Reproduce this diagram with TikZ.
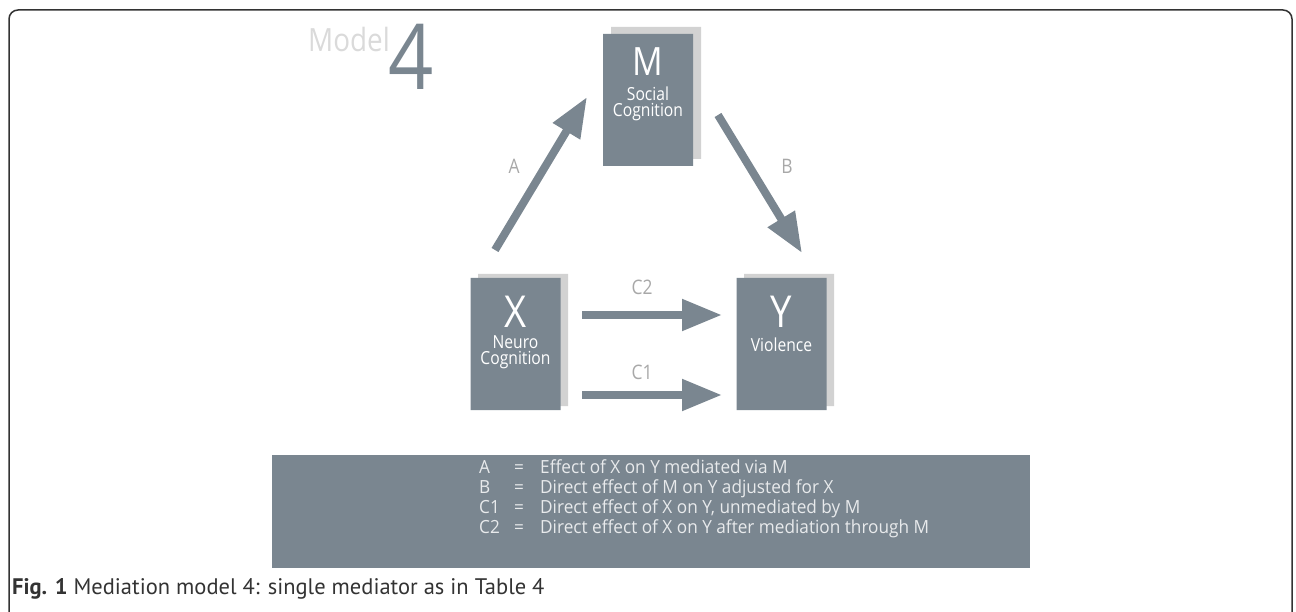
\documentclass[tikz,border=0pt]{standalone}
\usepackage{fontspec}
\usetikzlibrary{arrows.meta,shapes.misc}
\newfontfamily\dfont{Open Sans}[FakeStretch=0.87]
\newfontfamily\lfont{Open Sans}[FakeStretch=0.95]
\newfontfamily\capfont{PT Sans}
\definecolor{boxc}{HTML}{7A8690}
\definecolor{shadc}{HTML}{D2D2D2}
\definecolor{labc}{HTML}{A8A8A8}
\definecolor{modc}{HTML}{DADADA}
\definecolor{legc}{HTML}{E8EAEC}
\definecolor{framec}{HTML}{333333}
\begin{document}
\begin{tikzpicture}[x=1pt,y=-1pt,
  card/.style={shape=chamfered rectangle, chamfered rectangle corners=north east,
    chamfered rectangle sep=3pt, inner sep=0pt, minimum width=90pt, minimum height=132pt, draw=none},
  front/.style={card, fill=boxc},
  shade/.style={card, fill=shadc},
  big/.style={font=\dfont\fontsize{44}{44}\selectfont, text=white, anchor=base, inner sep=0pt},
  inbox/.style={font=\dfont\fontsize{18}{18}\selectfont, text=white, anchor=base, inner sep=0pt},
  inbox2/.style={font=\dfont\fontsize{18}{16}\selectfont, text=white, align=center, inner sep=0pt},
  lab/.style={font=\dfont\fontsize{20}{20}\selectfont, text=labc, anchor=base, inner sep=0pt},
  leg/.style={font=\lfont\fontsize{18.1}{18.1}\selectfont, text=legc, anchor=base west, inner sep=0pt},
  arr/.style={line width=8pt, draw=boxc, -{Triangle[length=40pt,width=30pt]}}]
\useasboundingbox (0,0) rectangle (1296,612);
% frame
\draw[framec, line width=1.5pt, rounded corners=9pt] (9,614) -- (9,10) -- (1292,10) -- (1292,614);
% title
\node[font=\dfont\fontsize{32}{32}\selectfont, text=modc, anchor=base west, inner sep=0pt] (model) at (308,52) {Model};
\node[font=\dfont\fontsize{91}{91}\selectfont, text=boxc, anchor=base west, inner sep=0pt] (four) at (388,90) {4};
% boxes: shadows
\node[shade] (Ms) at (656,93) {};
\node[shade] (Xs) at (523,340) {};
\node[shade] (Ys) at (789,340) {};
% boxes: fronts
\node[front] (M) at (648,100) {};
\node[front] (X) at (515.5,344) {};
\node[front] (Y) at (781.5,344) {};
% box texts
\node[big, font=\dfont\fontsize{39}{39}\selectfont] (Mt) at (648,76) {M};
\node[inbox2] (Mt1) at (648,104.3) {Social\\Cognition};
\node[big] (Xt) at (515.5,328) {X};
\node[inbox2] (Xt1) at (515.5,352.7) {Neuro\\Cognition};
\node[big] (Yt) at (781.5,328) {Y};
\node[inbox] (Yt1) at (781.5,352) {Violence};
% arrows
\coordinate (aS) at (495,250); \coordinate (aE) at (587,97);
\coordinate (bS) at (718,115); \coordinate (bE) at (802,253);
\coordinate (c2S) at (582,315); \coordinate (c2E) at (722,315);
\coordinate (c1S) at (582,395); \coordinate (c1E) at (722,395);
\draw[arr] (aS) -- (aE);
\draw[arr] (bS) -- (bE);
\draw[arr] (c2S) -- (c2E);
\draw[arr] (c1S) -- (c1E);
\node[lab] (la) at (514,174) {A};
\node[lab] (lb) at (787,174) {B};
\node[lab] (lc2) at (642,295) {C2};
\node[lab] (lc1) at (642,379) {C1};
% legend
\node[fill=boxc, draw=none, inner sep=0pt, minimum width=758pt, minimum height=113pt] (legend) at (651,511.5) {};
\node[leg] (k1) at (479,473) {A};
\node[leg] (e1) at (514,473) {=};
\node[leg] (t1) at (540,473) {Effect of X on Y mediated via M};
\node[leg] (k2) at (479,493) {B};
\node[leg] (e2) at (514,493) {=};
\node[leg] (t2) at (540,493) {Direct effect of M on Y adjusted for X};
\node[leg] (k3) at (479,513) {C1};
\node[leg] (e3) at (514,513) {=};
\node[leg] (t3) at (540,513) {Direct effect of X on Y, unmediated by M};
\node[leg] (k4) at (479,533) {C2};
\node[leg] (e4) at (514,533) {=};
\node[leg] (t4) at (540,533) {Direct effect of X on Y after mediation through M};
% caption
\node[font=\capfont\fontsize{22.5}{22.5}\selectfont, text=framec, anchor=base west, inner sep=0pt] (cap) at (12,594) {\textbf{Fig. 1} Mediation model 4: single mediator as in Table 4};
\end{tikzpicture}
\end{document}
